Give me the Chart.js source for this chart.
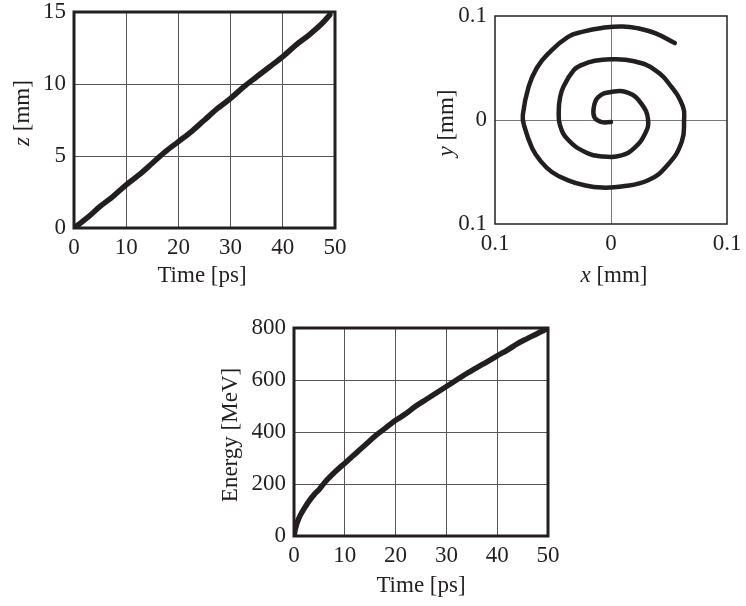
<!DOCTYPE html>
<html lang="en">
<head>
<meta charset="UTF-8" />
<title>Electron trajectory</title>
<script src="https://cdn.jsdelivr.net/npm/chart.js"></script>
<style>
    body {
        margin: 0;
        background: #ffffff;
    }
    .panel {
        position: absolute;
    }
</style>
</head>
<body>
<canvas id="zChart" class="panel" width="350" height="290" style="left:0;top:0"></canvas>
<canvas id="xyChart" class="panel" width="346" height="290" style="left:400px;top:0"></canvas>
<canvas id="energyChart" class="panel" width="360" height="316" style="left:200px;top:290px"></canvas>
<script>
    // longitudinal position vs time
    const zTime = [0, 2.5, 5, 7.5, 10, 12.5, 15, 17.5, 20, 22.5, 25, 27.5, 30, 32.5, 35, 37.5, 40, 42.5, 45, 47.5, 49];
    const zPos = [0, 0.7, 1.5, 2.2, 3.0, 3.7, 4.5, 5.3, 6.0, 6.7, 7.5, 8.3, 9.0, 9.8, 10.5, 11.2, 11.9, 12.7, 13.4, 14.2, 14.8];

    // transverse orbit (x, y) in mm
    const orbitX = [0.000, -0.008, -0.014, -0.015, -0.011, 0.000, 0.015, 0.026, 0.032, 0.029, 0.020, 0.009,
        -0.008, -0.022, -0.037, -0.044, -0.045, -0.044, -0.041, -0.032, -0.025, -0.014, 0.000, 0.020, 0.038,
        0.052, 0.062, 0.063, 0.061, 0.049, 0.032, 0.009, -0.008, -0.022, -0.037, -0.051, -0.061, -0.068,
        -0.075, -0.076, -0.071, -0.064, -0.054, -0.037, -0.024, -0.008, 0.010, 0.024, 0.038, 0.055];
    const orbitY = [-0.002, -0.002, 0.002, 0.011, 0.022, 0.027, 0.026, 0.016, 0.000, -0.014, -0.027, -0.034,
        -0.035, -0.031, -0.019, -0.005, 0.010, 0.021, 0.032, 0.048, 0.053, 0.057, 0.0585, 0.0565, 0.048,
        0.032, 0.013, 0.000, -0.021, -0.043, -0.058, -0.064, -0.065, -0.063, -0.058, -0.050, -0.039, -0.027,
        -0.005, 0.005, 0.032, 0.050, 0.064, 0.080, 0.085, 0.0885, 0.090, 0.088, 0.0835, 0.074];

    // beam energy vs time
    const eTime = [0, 0.3, 1, 2, 3, 4, 5, 6, 8, 10, 12, 14, 16, 18, 20, 22, 24, 26, 28, 30, 32, 34, 36, 38, 40, 42, 44, 46, 48, 49.7];
    const eMeV = [0, 30, 70, 105, 135, 160, 180, 205, 245, 280, 315, 350, 385, 415, 445, 470, 500, 525, 550, 575, 600, 625, 648, 670, 693, 715, 740, 760, 780, 796];

    const ink = '#231f20';
    const serif = "'Liberation Serif', 'DejaVu Serif', serif";
    const fontSize = 23;
    const tickFont = { family: serif, size: fontSize };

    const pairs = (xs, ys) => xs.map((x, i) => ({ x: x, y: ys[i] }));

    // title text may mix italic and upright pieces
    function writeParts(ctx, parts, cx, cy, angle) {
        ctx.save();
        ctx.translate(cx, cy);
        ctx.rotate(angle);
        ctx.textAlign = 'left';
        ctx.textBaseline = 'alphabetic';
        ctx.fillStyle = ink;
        const widths = parts.map(p => {
            ctx.font = `${p[1]} ${fontSize}px ${serif}`;
            return ctx.measureText(p[0]).width;
        });
        let x = -widths.reduce((a, b) => a + b, 0) / 2;
        parts.forEach((p, i) => {
            ctx.font = `${p[1]} ${fontSize}px ${serif}`;
            ctx.fillText(p[0], x, 0);
            x += widths[i];
        });
        ctx.restore();
    }

    function decor(cfg) {
        return {
            id: 'decor',
            beforeDatasetsDraw(chart) {
                const { ctx, chartArea: a } = chart;
                ctx.save();
                ctx.strokeStyle = ink;
                ctx.lineWidth = cfg.frame;
                ctx.strokeRect(a.left, a.top, a.right - a.left, a.bottom - a.top);
                ctx.restore();
            },
            afterDraw(chart) {
                writeParts(chart.ctx, cfg.xTitle, cfg.xAt[0], cfg.xAt[1], 0);
                writeParts(chart.ctx, cfg.yTitle, cfg.yAt[0], cfg.yAt[1], -Math.PI / 2);
            }
        };
    }

    // fixed plot box: box = [left, top, right, bottom] inside the canvas
    function panel(id, datasets, box, xScale, yScale, cfg) {
        const canvas = document.getElementById(id);
        const w = canvas.width, h = canvas.height;
        const fix = (size) => (scale) => {
            if (scale.isHorizontal()) scale.height = size; else scale.width = size;
            scale.paddingLeft = scale.paddingRight = scale.paddingTop = scale.paddingBottom = 0;
        };
        xScale.afterFit = fix(h - box[3]);
        yScale.afterFit = fix(box[0]);
        return new Chart(canvas, {
            type: 'scatter',
            data: { datasets: datasets },
            options: {
                responsive: false,
                animation: false,
                layout: { padding: { left: 0, top: box[1], right: w - box[2], bottom: 0 } },
                plugins: { legend: { display: false }, tooltip: { enabled: false } },
                scales: { x: xScale, y: yScale }
            },
            plugins: [decor(cfg)]
        });
    }

    const curve = (pts, width, extra) => Object.assign({
        data: pts,
        showLine: true,
        borderColor: ink,
        borderWidth: width,
        pointRadius: 0,
        borderCapStyle: 'round',
        borderJoinStyle: 'round'
    }, extra);

    const boxGrid = { color: '#555555', lineWidth: 1, drawTicks: false };

    panel('zChart',
        [curve(pairs(zTime, zPos), 5.5, { cubicInterpolationMode: 'monotone' })],
        [74, 12, 335, 228],
        { type: 'linear', min: 0, max: 50, grid: boxGrid, border: { display: false },
          ticks: { stepSize: 10, font: tickFont, color: ink, padding: 6, maxRotation: 0 } },
        { type: 'linear', min: 0, max: 15, grid: boxGrid, border: { display: false },
          ticks: { stepSize: 5, font: tickFont, color: ink, padding: 8 } },
        { frame: 3, xTitle: [['Time [ps]', 'normal']], xAt: [202, 282],
          yTitle: [['z', 'italic'], [' [mm]', 'normal']], yAt: [29, 113] });

    // only the zero lines are drawn inside the orbit panel
    const zeroGrid = {
        drawTicks: false,
        lineWidth: 1,
        color: (c) => Math.abs(c.tick.value) < 1e-9 ? '#7a7a7a' : 'rgba(0,0,0,0)'
    };
    const orbitLabel = (v) => Math.abs(v) < 1e-9 ? '0' : Math.abs(v).toFixed(1);

    panel('xyChart',
        [curve(pairs(orbitX, orbitY), 4.5, { tension: 0.45 })],
        [95, 16, 327, 224],
        { type: 'linear', min: -0.1, max: 0.1, grid: zeroGrid, border: { display: false },
          ticks: { stepSize: 0.1, font: tickFont, color: ink, padding: 6, maxRotation: 0, callback: orbitLabel } },
        { type: 'linear', min: -0.1, max: 0.1, grid: zeroGrid, border: { display: false },
          ticks: { stepSize: 0.1, font: tickFont, color: ink, padding: 8, callback: orbitLabel } },
        { frame: 1.5, xTitle: [['x', 'italic'], [' [mm]', 'normal']], xAt: [214, 282],
          yTitle: [['y', 'italic'], [' [mm]', 'normal']], yAt: [53, 123] });

    panel('energyChart',
        [curve(pairs(eTime, eMeV), 5.5, { cubicInterpolationMode: 'monotone' })],
        [94, 38, 348, 246],
        { type: 'linear', min: 0, max: 50, grid: boxGrid, border: { display: false },
          ticks: { stepSize: 10, font: tickFont, color: ink, padding: 6, maxRotation: 0 } },
        { type: 'linear', min: 0, max: 800, grid: boxGrid, border: { display: false },
          ticks: { stepSize: 200, font: tickFont, color: ink, padding: 8 } },
        { frame: 3, xTitle: [['Time [ps]', 'normal']], xAt: [221, 302],
          yTitle: [['Energy [MeV]', 'normal']], yAt: [37, 145] });
</script>
</body>
</html>
